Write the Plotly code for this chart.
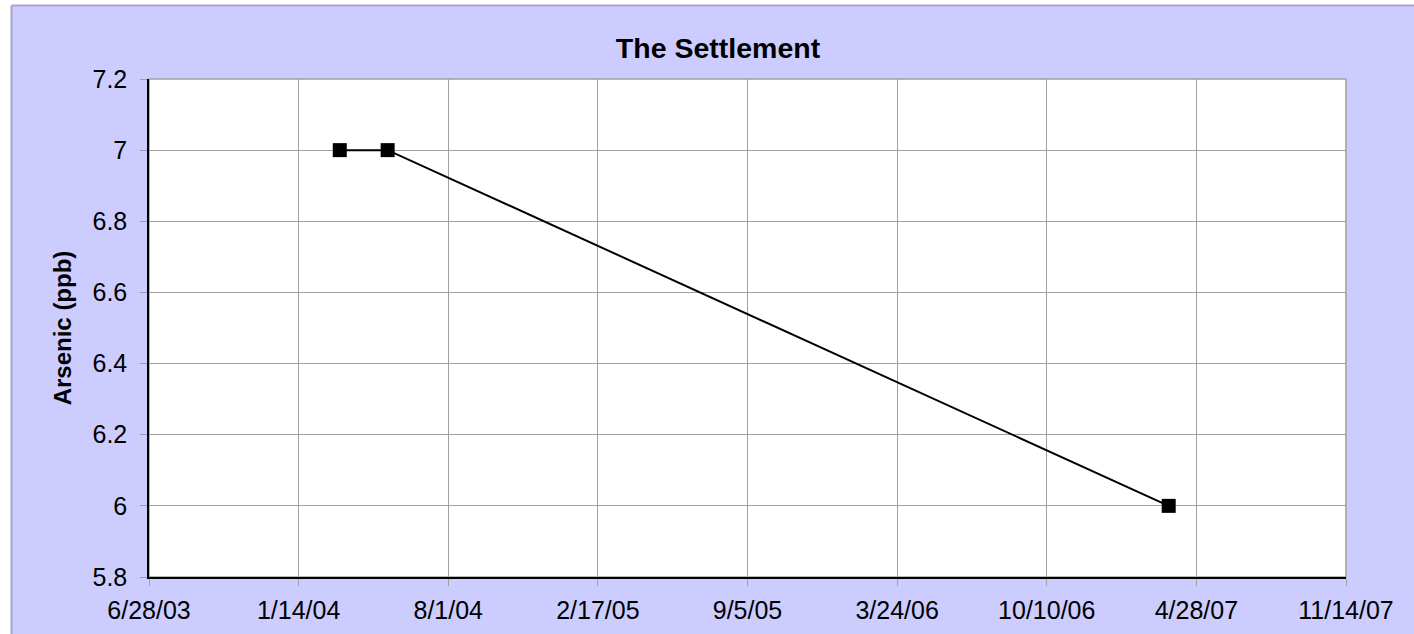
import pandas as pd
import plotly.graph_objects as go

# data
sample_dates = ["2004-03-09", "2004-05-12", "2007-03-22"]
arsenic_ppb = [7.0, 7.0, 6.0]

x_tick_labels = ["6/28/03", "1/14/04", "8/1/04", "2/17/05", "9/5/05",
                 "3/24/06", "10/10/06", "4/28/07", "11/14/07"]
y_tick_labels = ["5.8", "6", "6.2", "6.4", "6.6", "6.8", "7", "7.2"]

x_tick_vals = pd.to_datetime(x_tick_labels, format="%m/%d/%y")
y_tick_vals = [float(v) for v in y_tick_labels]

font = "Liberation Sans, Arial, sans-serif"
bg = "#CCCCFF"

fig = go.Figure(go.Scatter(
    x=pd.to_datetime(sample_dates),
    y=arsenic_ppb,
    mode="lines+markers",
    line=dict(color="black", width=2),
    marker=dict(symbol="square", size=14, color="black"),
    showlegend=False,
))

# plot area: x 149..1346, y 79..577
L, R, T, B = 149, 1346, 79, 577
W, H = R - L, B - T

def px(p):
    return (p - L) / W

def py(p):
    return (B - p) / H

fig.update_layout(
    width=1414, height=634,
    margin=dict(l=L, r=1414 - R, t=T, b=634 - B),
    paper_bgcolor=bg,
    plot_bgcolor="white",
    font=dict(family=font, size=25, color="black"),
    title=dict(text="<b>The Settlement</b>", x=718 / 1414, xanchor="center",
               y=1 - 48 / 634, yanchor="middle", font=dict(size=28.5)),
    shapes=[
        # white strips outside the chart area
        dict(type="rect", xref="paper", yref="paper", x0=px(-5), x1=px(11.5),
             y0=py(700), y1=py(-5), fillcolor="white", line_width=0, layer="below"),
        dict(type="rect", xref="paper", yref="paper", x0=px(-5), x1=px(1500),
             y0=py(5.5), y1=py(-5), fillcolor="white", line_width=0, layer="below"),
        dict(type="line", xref="paper", yref="paper", x0=px(11.5), x1=px(11.5),
             y0=py(5.5), y1=py(700), line=dict(color="#A6A6CC", width=2)),
        dict(type="line", xref="paper", yref="paper", x0=px(11.5), x1=px(1500),
             y0=py(5.5), y1=py(5.5), line=dict(color="#A6A6CC", width=2)),
        # plot area border
        dict(type="rect", xref="paper", yref="paper", x0=0, x1=1, y0=0, y1=1,
             line=dict(color="#A0A0A0", width=1.5), layer="below"),
    ],
)

fig.update_xaxes(
    type="date",
    range=[x_tick_vals[0], x_tick_vals[-1]],
    tickmode="array", tickvals=x_tick_vals, ticktext=x_tick_labels,
    showgrid=True, gridcolor="#A0A0A0", gridwidth=1,
    showline=True, linecolor="black", linewidth=1.5,
    ticks="outside", ticklen=7, tickcolor="#A0A0A0",
    ticklabelstandoff=3,
    zeroline=False, automargin=False,
)
fig.update_yaxes(
    range=[5.8, 7.2],
    tickmode="array", tickvals=y_tick_vals, ticktext=y_tick_labels,
    showgrid=True, gridcolor="#A0A0A0", gridwidth=1,
    showline=True, linecolor="black", linewidth=1.5,
    ticks="outside", ticklen=7, tickcolor="#A0A0A0",
    ticklabelstandoff=8,
    zeroline=False, automargin=False,
    title=dict(text="<b>Arsenic (ppb)</b>", font=dict(size=24), standoff=14),
)

fig.write_html("out.html", config={"displayModeBar": False},
               post_script="document.body.style.margin='0';")
